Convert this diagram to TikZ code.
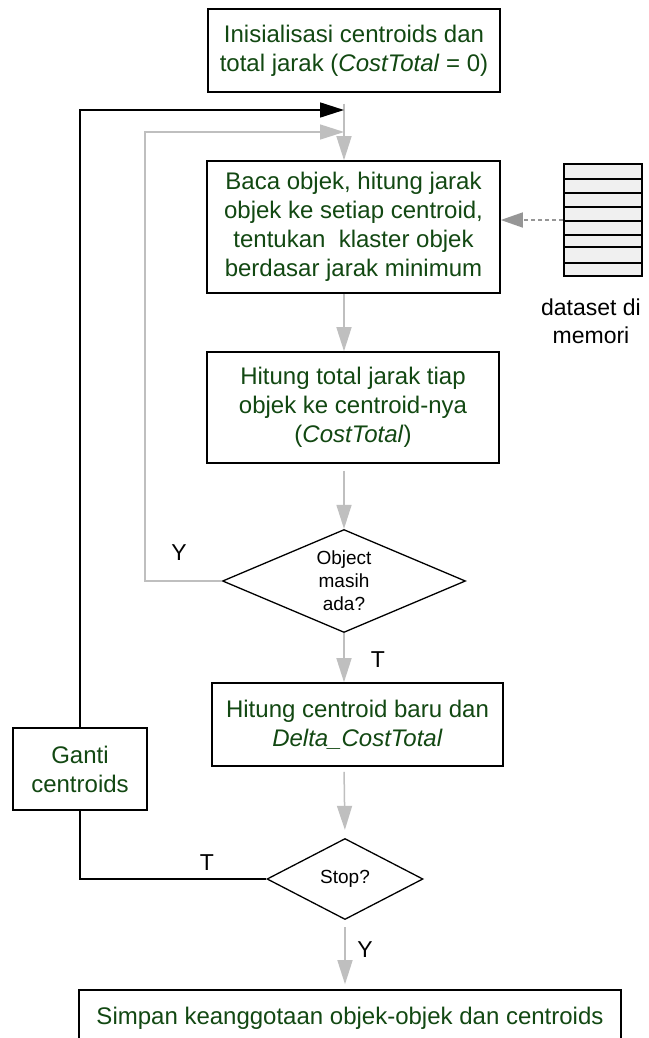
\documentclass[tikz,border=0pt]{standalone}
\usepackage{fontspec}
\setmainfont{Liberation Sans}
\usetikzlibrary{shapes.geometric,arrows.meta}
\definecolor{txtgreen}{RGB}{18,72,18}
\definecolor{lgray}{RGB}{191,191,191}
\definecolor{dgray}{RGB}{150,150,150}
\tikzset{
  procbox/.style={draw=black, line width=1.6bp, fill=white, align=center, text=txtgreen,
    font=\fontsize{24bp}{29bp}\selectfont, inner sep=0pt},
  decbox/.style={diamond, draw=black, line width=1.3bp, fill=white, align=center, text=black,
    font=\fontsize{19bp}{23bp}\selectfont, inner sep=0pt},
  flowg/.style={draw=lgray, line width=1.5bp, -{Triangle[length=24bp,width=15bp,fill=lgray]}},
  flowb/.style={draw=black, line width=1.6bp},
  flowbarrow/.style={draw=black, line width=1.6bp, -{Triangle[length=24bp,width=15bp,fill=black]}},
  dotarrow/.style={draw=dgray, line width=1.5bp, dash pattern=on 4bp off 3bp,
    -{Triangle[length=22bp,width=15bp,fill=dgray]}},
  lbl/.style={text=black, inner sep=0pt, font=\fontsize{23bp}{27bp}\selectfont},
}
\begin{document}
\begin{tikzpicture}[x=1bp,y=-1bp]
\useasboundingbox (0,0) rectangle (649,1038);
\fill[white] (0,0) rectangle (649,1038);
\coordinate (col) at (344,0);

% process boxes
\node[procbox, minimum width=292bp, minimum height=83bp] (init) at (354,50.5)
  {Inisialisasi centroids dan\\total jarak (\textit{CostTotal} = 0)};
\node[procbox, minimum width=293bp, minimum height=132bp] (baca) at (353.5,227)
  {Baca objek, hitung jarak\\objek ke setiap centroid,\\tentukan~ klaster objek\\berdasar jarak minimum};
\node[procbox, minimum width=292bp, minimum height=111bp] (hitung) at (353,407.5)
  {Hitung total jarak tiap\\objek ke centroid-nya\\(\textit{CostTotal})};
\node[decbox, minimum width=243bp, minimum height=103bp, aspect=2.36] (masih) at (344,581)
  {Object\\masih\\ada?};
\node[procbox, minimum width=291bp, minimum height=83bp] (baru) at (357.5,724.5)
  {Hitung centroid baru dan\\\textit{Delta\_CostTotal}};
\node[procbox, minimum width=134bp, minimum height=82bp] (ganti) at (80,769)
  {Ganti\\centroids};
\node[decbox, minimum width=156bp, minimum height=81bp, aspect=1.93] (stop) at (345,879)
  {Stop?};
\node[procbox, minimum width=542bp, minimum height=56bp] (simpan) at (350,1018)
  {Simpan keanggotaan objek-objek dan centroids};

% dataset icon
\node[draw=black, line width=1.6bp, fill=gray!12, minimum width=78bp, minimum height=112bp,
  inner sep=0pt] (ds) at (603,220) {};
\foreach \yy in {179,193,207,221,235,247,263}
  \draw[line width=1.3bp] (ds.west |- 0,\yy) -- (ds.east |- 0,\yy);
\node[lbl, align=center, font=\fontsize{23bp}{28bp}\selectfont] (dslabel) at (591,321) {dataset di\\memori};

% main flow
\draw[flowg, shorten <=11bp] (init.south -| col) -- (baca.north -| col);
\draw[flowg] (baca.south -| col) -- (hitung.north -| col);
\draw[flowg, shorten <=7bp] (hitung.south -| col) -- (masih.north);
\draw[flowg] (masih.south) -- (baru.north -| col);
\draw[flowg, shorten <=5bp, shorten >=8bp] (baru.south -| col) -- (stop.north);
\draw[flowg, shorten <=7bp, shorten >=5bp] (stop.south) -- (simpan.north -| stop.south);

% loops
\coordinate (yloop) at (145,132);
\draw[flowg] (masih.west) -| (yloop) -- (yloop -| col);
\coordinate (tloop) at (79,110);
\draw[flowb] (stop.west) -| (ganti.south);
\draw[flowbarrow] (ganti.north) |- (tloop -| col);

% dataset arrow
\draw[dotarrow] (ds.west) -- (ds.west -| baca.east);

% labels
\node[lbl] (y1) at (179,553) {Y};
\node[lbl] (t1) at (378,660) {T};
\node[lbl] (t2) at (207,863) {T};
\node[lbl] (y2) at (365,950) {Y};
\end{tikzpicture}
\end{document}
